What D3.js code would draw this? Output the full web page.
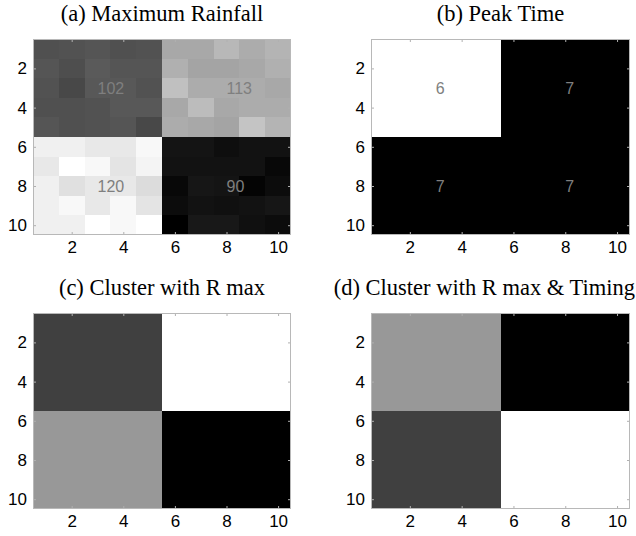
<!DOCTYPE html>
<html>
<head>
<meta charset="utf-8">
<script src="https://cdn.jsdelivr.net/npm/d3@7"></script>
<style>
  body { margin: 0; background: #fff; }
  svg { display: block; }
</style>
</head>
<body>
<svg id="svg-graphic" width="636" height="536"></svg>
<script>
/////////////////////////////////////////////////////////////////////////////////////
// Data
var gridIdx = [1, 2, 3, 4, 5, 6, 7, 8, 9, 10];
var tickVals = [2, 4, 6, 8, 10];

// (a) maximum rainfall, row 1 at top
var rainfall = [
  [ 98.7,  98.9,  99.3,  98.7,  98.9, 110.4, 110.4, 112.5, 110.9, 112.0],
  [ 99.3,  98.4, 100.0,  99.3,  99.3, 111.5, 109.9, 109.9, 110.4, 111.5],
  [ 98.9,  97.6,  99.7,  99.7,  98.9, 113.6, 110.9, 110.9, 110.9, 110.4],
  [ 98.7,  98.7,  98.9,  99.7,  99.7, 110.4, 113.1, 110.4, 110.9, 110.9],
  [ 99.3,  98.7,  98.9,  99.3,  97.6, 110.9, 110.4, 109.9, 114.1, 112.0],
  [120.0, 120.0, 118.9, 118.9, 121.1,  90.7,  90.7,  89.9,  90.4,  90.4],
  [118.9, 122.0, 121.1, 118.4, 120.5,  90.4,  90.4,  90.4,  90.4,  89.1],
  [120.0, 117.9, 118.9, 118.9, 117.3,  89.1,  90.9,  90.7,  88.5,  89.6],
  [120.0, 121.1, 118.9, 121.1, 118.4,  89.6,  90.4,  90.1,  90.4,  90.9],
  [120.0, 120.0, 122.0, 121.1, 122.0,  88.0,  91.2,  91.2,  90.1,  89.6]
];
var rainLabels = [[102, 113], [120, 90]];   // by block (row, col)

// (b) peak time, per 5x5 block
var peakBlocks = [[6, 7], [7, 7]];
// (c), (d) cluster ids per 5x5 block
var clusterR = [[2, 4], [3, 1]];
var clusterRT = [[3, 1], [2, 4]];

var titles = ["(a) Maximum Rainfall", "(b) Peak Time",
              "(c) Cluster with R max", "(d) Cluster with R max & Timing"];

/////////////////////////////////////////////////////////////////////////////////////
// Layout
var svg = d3.select("#svg-graphic");
var W = 636;
var panels = [
  {left: 33,  top: 39,  w: 258, h: 196},
  {left: 371, top: 39,  w: 259, h: 196},
  {left: 33,  top: 313, w: 258, h: 196},
  {left: 371, top: 313, w: 259, h: 196}
];
var blockSize = 5;

function blockGrid(blocks) {
  return gridIdx.map(function(r) {
    return gridIdx.map(function(c) {
      return blocks[Math.floor((r - 1) / blockSize)][Math.floor((c - 1) / blockSize)];
    });
  });
}

var rainColor = d3.scaleLinear()
                  .domain(d3.extent(d3.merge(rainfall)))
                  .range(["#000", "#fff"]);
var peakColor = d3.scaleLinear().domain([6, 7]).range(["#fff", "#000"]);
var clusterColor = d3.scaleOrdinal()
                     .domain([1, 2, 3, 4])
                     .range(["#000", "#404040", "#989898", "#fff"]);

/////////////////////////////////////////////////////////////////////////////////////
// Plotting
function plotPanel(p, title, grid, color, labels) {
  var xScale = d3.scaleLinear().domain([0.5, 10.5]).range([p.left, p.left + p.w]);
  var yScale = d3.scaleLinear().domain([0.5, 10.5]).range([p.top, p.top + p.h]);
  var g = svg.append("g");

  var cells = [];
  grid.forEach(function(row, i) {
    row.forEach(function(v, j) { cells.push({r: i + 1, c: j + 1, v: v}); });
  });

  // whole-pixel edges so neighbouring cells leave no seams
  g.selectAll("rect.cell")
   .data(cells)
   .enter()
   .append("rect")
   .attr("class", "cell")
   .attr("shape-rendering", "crispEdges")
   .attr("x", function(d) { return Math.round(xScale(d.c - 0.5)); })
   .attr("y", function(d) { return Math.round(yScale(d.r - 0.5)); })
   .attr("width", function(d) { return Math.round(xScale(d.c + 0.5)) - Math.round(xScale(d.c - 0.5)); })
   .attr("height", function(d) { return Math.round(yScale(d.r + 0.5)) - Math.round(yScale(d.r - 0.5)); })
   .style("fill", function(d) { return color(d.v); });

  // axes, ticks pointing inward
  var axes = [
    {ax: d3.axisBottom(xScale), t: "translate(0," + (p.top + p.h) + ")", lab: true},
    {ax: d3.axisTop(xScale), t: "translate(0," + p.top + ")", lab: false},
    {ax: d3.axisLeft(yScale), t: "translate(" + p.left + ",0)", lab: true},
    {ax: d3.axisRight(yScale), t: "translate(" + (p.left + p.w) + ",0)", lab: false}
  ];
  axes.forEach(function(a) {
    var ag = g.append("g")
              .attr("transform", a.t)
              .call(a.ax.tickValues(tickVals).tickSize(-3).tickPadding(6)
                        .tickFormat(a.lab ? d3.format("d") : ""));
    ag.select(".domain").remove();
    ag.selectAll("line").attr("stroke", "#b0b0b0");
    ag.selectAll("text")
      .style("font-family", "'Liberation Sans', Arial, sans-serif")
      .style("font-size", "17px")
      .attr("fill", "#000");
  });

  g.append("rect")
   .attr("x", p.left + 0.5).attr("y", p.top + 0.5)
   .attr("width", p.w - 1).attr("height", p.h - 1)
   .style("fill", "none")
   .style("stroke", "#b8b8b8")
   .style("stroke-width", 1);

  if (labels) {
    labels.forEach(function(row, bi) {
      row.forEach(function(v, bj) {
        g.append("text")
         .attr("x", xScale(bj * blockSize + 3))
         .attr("y", yScale(bi * blockSize + 3))
         .attr("dy", "0.35em")
         .style("font-family", "'Liberation Sans', Arial, sans-serif")
         .style("font-size", "16px")
         .style("fill", "#7f7f7f")
         .text(v);
      });
    });
  }

  var t = svg.append("text")
     .attr("x", p.left + p.w / 2)
     .attr("y", p.top - 18)
     .attr("text-anchor", "middle")
     .style("font-family", "'Liberation Serif', 'Times New Roman', serif")
     .style("font-size", "22.5px")
     .style("fill", "#000")
     .text(title);
  // keep a long title inside the page
  var tw = t.node().getComputedTextLength();
  if (p.left + p.w / 2 + tw / 2 > W - 1) t.attr("x", W - 1 - tw / 2);
}

plotPanel(panels[0], titles[0], rainfall, rainColor, rainLabels);
plotPanel(panels[1], titles[1], blockGrid(peakBlocks), peakColor, peakBlocks);
plotPanel(panels[2], titles[2], blockGrid(clusterR), clusterColor, null);
plotPanel(panels[3], titles[3], blockGrid(clusterRT), clusterColor, null);
</script>
</body>
</html>
